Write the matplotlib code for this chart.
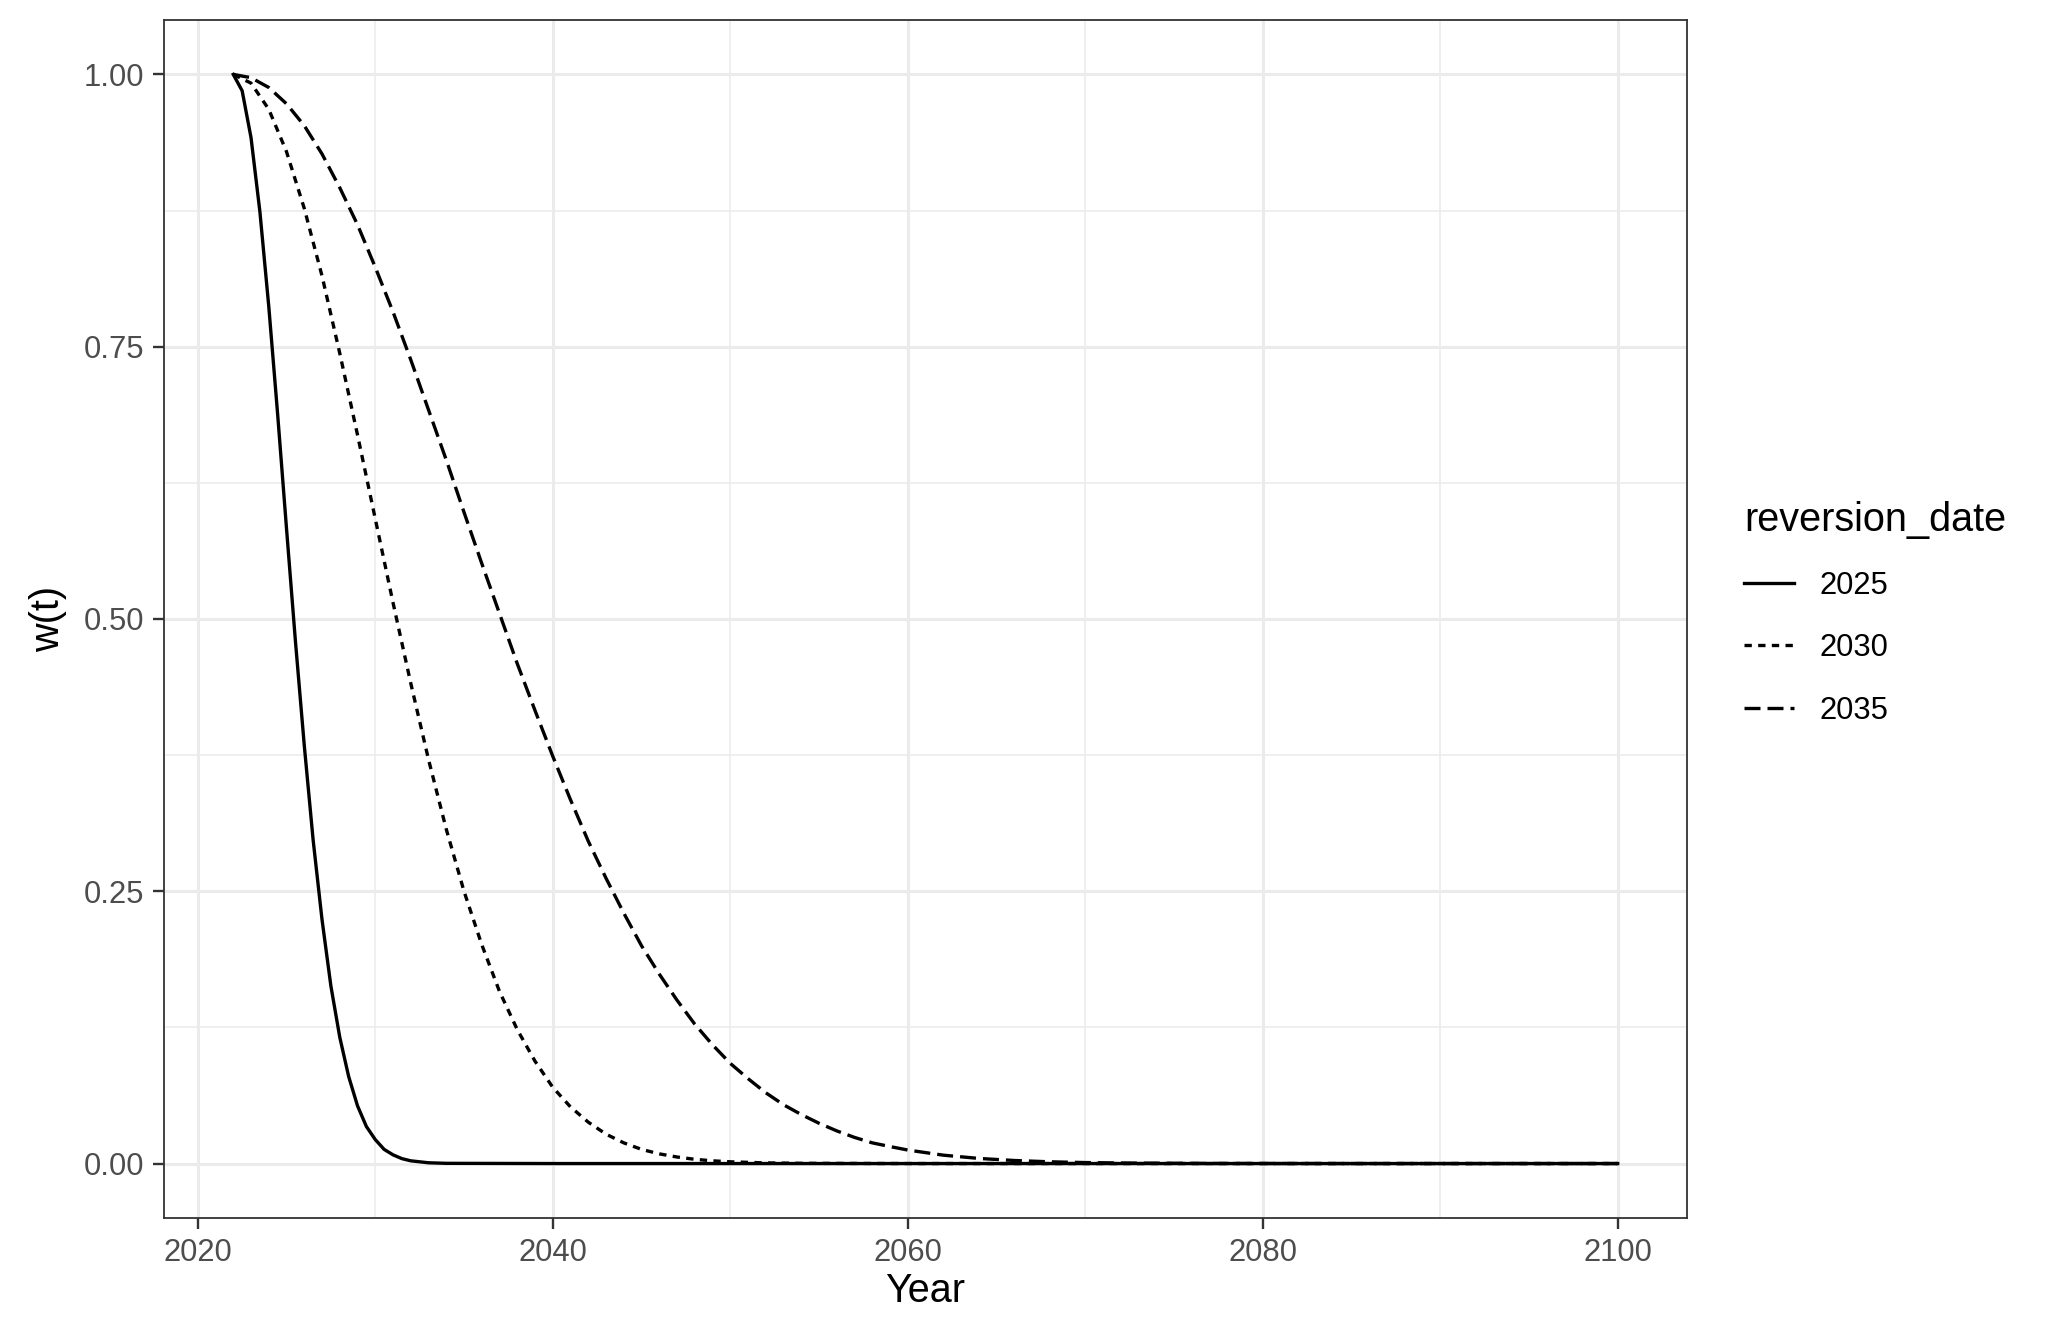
import numpy as np
import matplotlib
matplotlib.use("Agg")
import matplotlib.pyplot as plt
from matplotlib.ticker import MultipleLocator, FormatStrFormatter

plt.rcParams["font.family"] = ["Liberation Sans", "DejaVu Sans"]

# ---- data ----
years_2025 = [2022.0, 2022.5, 2023.0, 2023.5, 2024.0, 2024.5, 2025.0, 2025.5,
              2026.0, 2026.5, 2027.0, 2027.5, 2028.0, 2028.5, 2029.0, 2029.5,
              2030.0, 2030.5, 2031.0, 2031.5, 2032.0, 2033.0, 2034.0, 2040.0,
              2100.0]
w_2025 = [1.000, 0.985, 0.942, 0.874, 0.787, 0.688, 0.583, 0.480,
          0.384, 0.297, 0.224, 0.163, 0.116, 0.080, 0.053, 0.034,
          0.022, 0.013, 0.008, 0.0045, 0.0025, 0.0007, 0.0002, 0.0,
          0.0]

years_2030 = [2022, 2023, 2024, 2025, 2026, 2027, 2028, 2029, 2030, 2031,
              2032, 2033, 2034, 2035, 2036, 2037, 2038, 2039, 2040, 2041,
              2042, 2043, 2044, 2045, 2046, 2047, 2048, 2049, 2050, 2052,
              2054, 2060, 2100]
w_2030 = [1.000, 0.992, 0.968, 0.929, 0.877, 0.815, 0.744, 0.669, 0.592, 0.515,
          0.441, 0.371, 0.307, 0.250, 0.201, 0.158, 0.123, 0.094, 0.070, 0.052,
          0.038, 0.027, 0.019, 0.013, 0.0089, 0.0060, 0.0039, 0.0025, 0.0016, 0.0006,
          0.0002, 0.0, 0.0]

years_2035 = [2022, 2023, 2024, 2025, 2026, 2027, 2028, 2029, 2030, 2031,
              2032, 2033, 2034, 2035, 2036, 2037, 2038, 2039, 2040, 2041,
              2042, 2043, 2044, 2045, 2046, 2047, 2048, 2049, 2050, 2051,
              2052, 2053, 2054, 2055, 2056, 2057, 2058, 2059, 2060, 2062,
              2064, 2066, 2068, 2070, 2072, 2077, 2085, 2100]
w_2035 = [1.000, 0.997, 0.988, 0.973, 0.953, 0.927, 0.896, 0.862, 0.823, 0.782,
          0.738, 0.692, 0.646, 0.598, 0.551, 0.505, 0.459, 0.416, 0.374, 0.334,
          0.296, 0.262, 0.230, 0.200, 0.174, 0.150, 0.128, 0.109, 0.092, 0.078,
          0.065, 0.054, 0.045, 0.037, 0.030, 0.024, 0.019, 0.0156, 0.0124, 0.0077,
          0.0047, 0.0028, 0.0016, 0.0009, 0.0005, 0.0001, 0.0, 0.0]

series_labels = ["2025", "2030", "2035"]

# ---- figure ----
fig = plt.figure(figsize=(10.24, 6.655), dpi=200)
ax = fig.add_axes([0.0801, 0.0849, 0.7436, 0.9001])

line_kw = dict(color="black", lw=1.2)
ax.plot(years_2025, w_2025, label=series_labels[0], **line_kw)
ax.plot(years_2030, w_2030, label=series_labels[1], dashes=(2.2, 1.9), **line_kw)
ax.plot(years_2035, w_2035, label=series_labels[2], dashes=(4.8, 2.1), **line_kw)

ax.set_xlim(2018.1, 2103.9)
ax.set_ylim(-0.05, 1.05)
ax.xaxis.set_major_locator(MultipleLocator(20))
ax.xaxis.set_minor_locator(MultipleLocator(10))
ax.yaxis.set_major_locator(MultipleLocator(0.25))
ax.yaxis.set_minor_locator(MultipleLocator(0.125))
ax.yaxis.set_major_formatter(FormatStrFormatter("%.2f"))

ax.grid(which="major", color="#EBEBEB", lw=1.1)
ax.grid(which="minor", color="#EBEBEB", lw=0.55)
ax.set_axisbelow(True)

ax.tick_params(which="major", length=3.85, width=0.85, color="#333333",
               labelsize=11.16, labelcolor="#4D4D4D", pad=3.2)
ax.tick_params(which="minor", length=0)
for sp in ax.spines.values():
    sp.set_color("#333333")
    sp.set_linewidth(0.65)

ax.set_xlabel("Year", fontsize=14.26, labelpad=1.5)
ax.set_ylabel("w(t)", fontsize=14.26, labelpad=6)

leg = fig.legend(loc="upper left", bbox_to_anchor=(0.8515, 0.6237),
                 title="reversion_date", title_fontsize=14.26, fontsize=11.16,
                 frameon=False, borderpad=0, borderaxespad=0,
                 handlelength=1.62, handletextpad=0.82, labelspacing=1.04,
                 alignment="left")

fig.savefig("out.png", dpi=200)
